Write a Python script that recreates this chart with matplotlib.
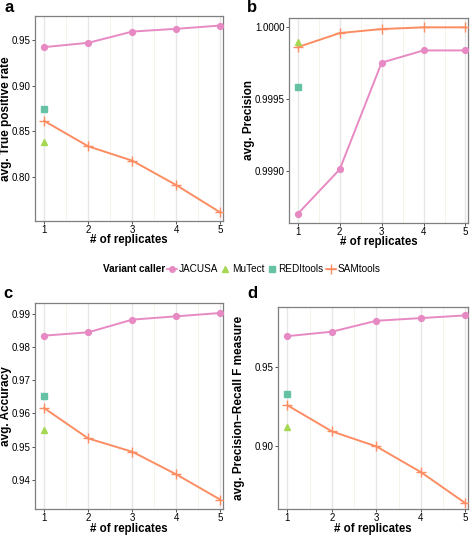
import matplotlib
matplotlib.use("Agg")
import matplotlib.pyplot as plt
from matplotlib.lines import Line2D

plt.rcParams['font.family'] = ['Liberation Sans', 'DejaVu Sans']

replicates = [1, 2, 3, 4, 5]
callers = ["JACUSA", "MuTect", "REDItools", "SAMtools"]
colors = {"JACUSA": "#e78ac3", "MuTect": "#a6d854", "REDItools": "#66c2a5", "SAMtools": "#fc8d62"}

# panel a: True positive rate
tpr_jacusa = [0.942, 0.9467, 0.959, 0.962, 0.9656]
tpr_samtools = [0.8613, 0.8336, 0.8179, 0.7912, 0.7613]
tpr_mutect = [0.838]
tpr_reditools = [0.8745]

# panel b: Precision
prec_jacusa = [0.99870, 0.99901, 0.999754, 0.999839, 0.999839]
prec_samtools = [0.999862, 0.99996, 0.999988, 1.0, 1.0]
prec_mutect = [0.999895]
prec_reditools = [0.999587]

# panel c: Accuracy
acc_jacusa = [0.98339, 0.98439, 0.9882, 0.9892, 0.9902]
acc_samtools = [0.9616, 0.9525, 0.9485, 0.9417, 0.9341]
acc_mutect = [0.9551]
acc_reditools = [0.9652]

# panel d: F measure
f_jacusa = [0.9696, 0.9724, 0.9793, 0.981, 0.9827]
f_samtools = [0.926, 0.9095, 0.900, 0.8838, 0.8642]
f_mutect = [0.912]
f_reditools = [0.9331]

W, H = 473, 536
fig = plt.figure(figsize=(W / 100, H / 100), dpi=100)


def box(l, r, t, b):
    return [l / W, 1 - b / H, (r - l) / W, (b - t) / H]


# (letter, box px, data..., ylabel, ylim, yticks, fmt, letter pos px, ylabel right edge px, xlabel top px)
panels = [
    ("a", (35, 223, 16, 221), tpr_jacusa, tpr_samtools, tpr_mutect, tpr_reditools,
     "avg. True positive rate", (0.752, 0.976), [0.80, 0.85, 0.90, 0.95], "%.2f", (4, 8), 12, 234),
    ("b", (289, 468, 18, 223), prec_jacusa, prec_samtools, prec_mutect, prec_reditools,
     "avg. Precision", (0.998636, 1.000065), [0.9990, 0.9995, 1.0000], "%.4f", (247, 8), 255, 236),
    ("c", (35, 223, 303, 509), acc_jacusa, acc_samtools, acc_mutect, acc_reditools,
     "avg. Accuracy", (0.9313, 0.9932), [0.94, 0.95, 0.96, 0.97, 0.98, 0.99], "%.2f", (3, 294), 12, 523),
    ("d", (278, 468, 307, 509), f_jacusa, f_samtools, f_mutect, f_reditools,
     "avg. Precision\u2212Recall F measure", (0.8605, 0.988), [0.90, 0.95], "%.2f", (247, 293), 245, 523),
]

for letter, px, jac, sam, mut, red, ylab, ylim, yticks, fmt, lpos, ylab_x, xlab_y in panels:
    l, r, t, b = px
    ax = fig.add_axes(box(l, r, t, b))
    ax.set_xlim(0.79, 5.06)
    ax.set_ylim(*ylim)
    for x in [1.5, 2.5, 3.5, 4.5]:
        ax.axvline(x, color="#f3f3e6", lw=0.6, zorder=0)
    for x in replicates:
        ax.axvline(x, color="#e6e6e6", lw=1.0, zorder=0)
    ax.plot(replicates, jac, color=colors["JACUSA"], lw=1.4, marker="o", ms=4.2, zorder=3)
    ax.plot(replicates, sam, color=colors["SAMtools"], lw=1.4, marker="+", ms=7, mew=1.0, zorder=3)
    ax.plot(replicates[:1], mut, color=colors["MuTect"], marker="^", ms=5, lw=0, zorder=3)
    ax.plot(replicates[:1], red, color=colors["REDItools"], marker="s", ms=4.3, lw=0, zorder=3)
    ax.set_xticks(replicates)
    ax.set_yticks(yticks)
    ax.set_yticklabels([fmt % v for v in yticks])
    ax.tick_params(axis="both", labelsize=7, length=2, width=0.6, color="#333333", pad=1)
    for s in ax.spines.values():
        s.set_color("#7f7f7f")
        s.set_linewidth(0.9)
    ax.set_xlabel("# of replicates", fontsize=8.3, fontweight="bold")
    ax.set_ylabel(ylab, fontsize=8.5, fontweight="bold")
    ax.yaxis.set_label_coords(ylab_x / W, 1 - (t + b) / 2 / H, transform=fig.transFigure)
    ax.xaxis.set_label_coords((l + r) / 2 / W, 1 - xlab_y / H, transform=fig.transFigure)
    fig.text(lpos[0] / W, 1 - lpos[1] / H, letter, fontsize=12, fontweight="bold", va="center", ha="left")

handles = [
    Line2D([], [], color=colors["JACUSA"], marker="o", lw=1.2, ms=4),
    Line2D([], [], color=colors["MuTect"], marker="^", lw=0, ms=5),
    Line2D([], [], color=colors["REDItools"], marker="s", lw=0, ms=4.3),
    Line2D([], [], color=colors["SAMtools"], marker="+", lw=1.2, ms=7),
]
fig.text(103 / W, 1 - 269 / H, "Variant caller", fontsize=7.2, fontweight="bold", va="center", ha="left")
fig.legend(handles, callers, loc="center left", bbox_to_anchor=(167 / W, 1 - 269 / H), ncol=4,
           frameon=False, fontsize=7.2, handlelength=1.0, handletextpad=0.15, columnspacing=0.25,
           borderaxespad=0, borderpad=0)

fig.savefig("out.png", dpi=100)
